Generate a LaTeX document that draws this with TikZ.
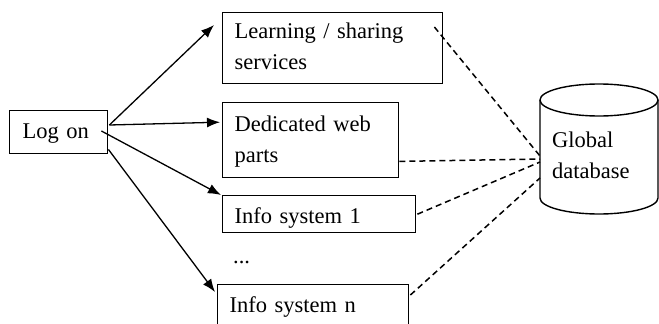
\documentclass[tikz,border=0pt]{standalone}
\usepackage{fontspec}
\setmainfont{Liberation Serif}
\usetikzlibrary{arrows.meta,calc}
\begin{document}
\begin{tikzpicture}[x=1pt,y=-1pt,
  txt/.style={font=\fontsize{22.5}{31}\selectfont},
  box/.style={txt, draw, line width=1.4pt, align=left, inner xsep=12pt,
    inner ysep=0pt, anchor=north west},
  link/.style={line width=1.3pt, -{Latex[length=13pt,width=10pt]}},
  dbline/.style={line width=1.5pt, dash pattern=on 6pt off 4pt}]
\useasboundingbox (0,0) rectangle (659,324);
\clip (0,0) rectangle (659,324);

% entry point
\node[box, inner xsep=13pt, text width=72pt, text height=28pt, text depth=15pt]
  (logon) at (9,110) {Log on};

% services reached after logging on
\node[box, text width=196pt, text height=26pt, text depth=45pt]
  (learn) at (222,12) {Learning / sharing\\services};
\node[box, text width=152pt, text height=29pt, text depth=46pt]
  (web) at (222,102) {Dedicated web\\parts};
\node[box, text width=169pt, text height=28pt, text depth=9pt]
  (info1) at (222,195) {Info system 1};
\node[txt, anchor=base west, inner sep=0pt] (dots) at (233,263) {...};
\node[box, text width=167pt, text height=28pt, text depth=40pt]
  (infon) at (217,284) {Info system n};

% global database cylinder
\draw[line width=1.4pt] (599,100) ellipse [x radius=59, y radius=16];
\draw[line width=1.4pt] (540,100) -- (540,198)
  arc[start angle=180, end angle=0, x radius=59, y radius=16] -- (658,100);
\node[txt, align=left, anchor=base west, inner sep=0pt] (db) at (552,178)
  {Global\\database};
\coordinate (dbA) at (540,156);
\coordinate (dbB) at (540,159);
\coordinate (dbC) at (540,162);
\coordinate (dbD) at (540,178);

% navigation from the log-on page
\draw[link] ($(logon.north east)+(1,15)$) -- ($(learn.north west)+(-8,13)$);
\draw[link] ($(logon.north east)+(1,15)$) -- ($(web.west)+(-2,-18)$);
\draw[link] ($(logon.north east)+(-7,21)$) -- ($(info1.north west)+(-1,0)$);
\draw[link] ($(logon.south east)+(0,-5)$) -- ($(infon.north west)+(-2,8)$);

% data links to the database
\draw[dbline] ($(learn.north east)+(-9,15)$) -- (dbA);
\draw[dbline] ($(web.south east)+(0,-17)$) -- (dbB);
\draw[dbline] ($(info1.east)+(1,0)$) -- (dbC);
\draw[dbline] ($(infon.north east)+(1,11)$) -- (dbD);
\end{tikzpicture}
\end{document}
